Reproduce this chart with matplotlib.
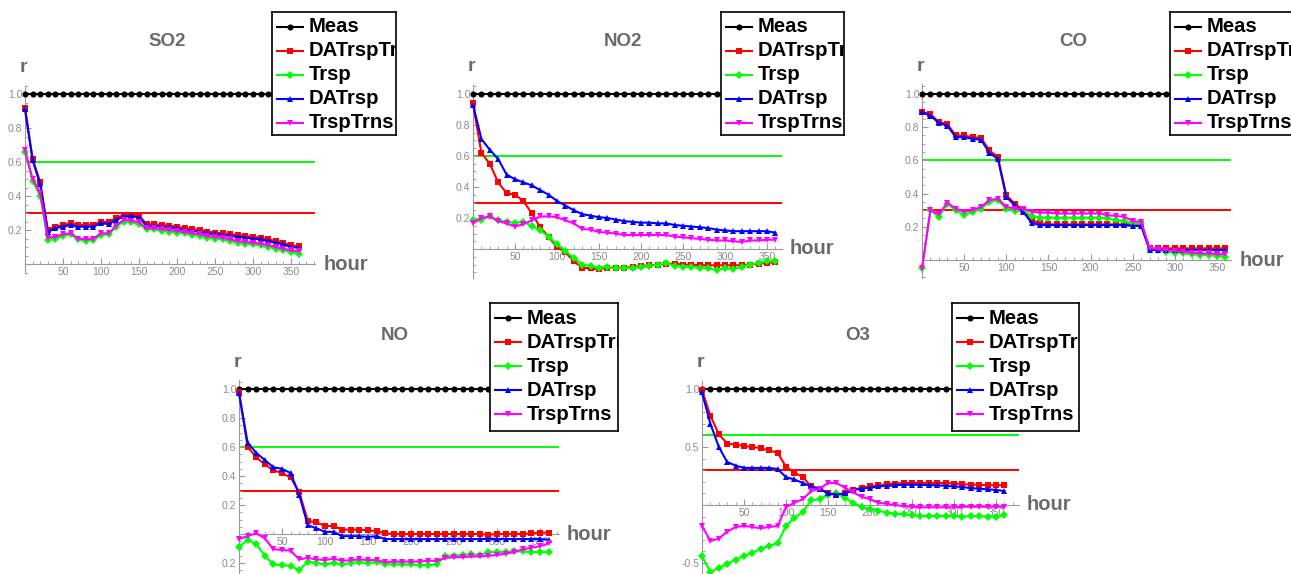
import numpy as np
import matplotlib
matplotlib.use('Agg')
import matplotlib.pyplot as plt
from matplotlib.ticker import MultipleLocator, FixedLocator

plt.rcParams['font.family'] = ['Liberation Sans', 'DejaVu Sans']

# x axis: hours 0..360 every 10
hours = np.arange(0, 370, 10)
meas = np.ones(len(hours))

series_names = ['Meas', 'DATrspTrns', 'Trsp', 'DATrsp', 'TrspTrns']

# ---------------- SO2 ----------------
so2_datrspt = [0.92, 0.62, 0.48, 0.20, 0.22, 0.23, 0.24, 0.23, 0.23, 0.23, 0.25, 0.245, 0.27, 0.29, 0.29, 0.285,
               0.235, 0.235, 0.23, 0.225, 0.22, 0.21, 0.205, 0.20, 0.19, 0.185, 0.18, 0.175, 0.17, 0.165, 0.16,
               0.155, 0.145, 0.135, 0.125, 0.11, 0.105]
so2_trsp = [0.66, 0.49, 0.40, 0.14, 0.15, 0.165, 0.175, 0.145, 0.135, 0.14, 0.17, 0.175, 0.22, 0.25, 0.245, 0.235,
            0.205, 0.205, 0.195, 0.19, 0.185, 0.18, 0.17, 0.165, 0.155, 0.15, 0.145, 0.135, 0.125, 0.12, 0.115,
            0.11, 0.10, 0.09, 0.08, 0.07, 0.06]
so2_datrsp = [0.91, 0.61, 0.47, 0.19, 0.21, 0.22, 0.23, 0.22, 0.22, 0.22, 0.24, 0.235, 0.26, 0.28, 0.28, 0.275,
              0.225, 0.225, 0.22, 0.215, 0.21, 0.20, 0.195, 0.19, 0.18, 0.175, 0.17, 0.165, 0.16, 0.155, 0.15,
              0.145, 0.135, 0.125, 0.115, 0.10, 0.095]
so2_trsptrns = [0.67, 0.50, 0.42, 0.155, 0.16, 0.175, 0.18, 0.15, 0.145, 0.15, 0.18, 0.18, 0.225, 0.26, 0.255, 0.245,
                0.21, 0.21, 0.205, 0.20, 0.195, 0.19, 0.18, 0.175, 0.165, 0.16, 0.155, 0.145, 0.135, 0.13, 0.125,
                0.12, 0.11, 0.10, 0.09, 0.08, 0.075]

# ---------------- NO2 ----------------
no2_datrspt = [0.94, 0.62, 0.55, 0.43, 0.36, 0.35, 0.31, 0.23, 0.14, 0.08, 0.01, -0.02, -0.08, -0.12, -0.125, -0.13,
               -0.12, -0.12, -0.12, -0.115, -0.11, -0.105, -0.10, -0.095, -0.095, -0.10, -0.10, -0.105, -0.105,
               -0.105, -0.105, -0.105, -0.105, -0.10, -0.095, -0.09, -0.085]
no2_trsp = [0.19, 0.19, 0.21, 0.185, 0.175, 0.17, 0.175, 0.15, 0.12, 0.08, 0.03, -0.01, -0.06, -0.10, -0.11, -0.12,
            -0.115, -0.125, -0.125, -0.12, -0.115, -0.11, -0.10, -0.09, -0.11, -0.115, -0.115, -0.12, -0.125,
            -0.135, -0.125, -0.13, -0.115, -0.10, -0.09, -0.08, -0.08]
no2_datrsp = [0.93, 0.71, 0.64, 0.58, 0.48, 0.45, 0.43, 0.41, 0.38, 0.35, 0.31, 0.28, 0.25, 0.225, 0.215, 0.205,
              0.20, 0.19, 0.18, 0.175, 0.17, 0.17, 0.165, 0.165, 0.155, 0.15, 0.145, 0.14, 0.135, 0.125, 0.12,
              0.115, 0.115, 0.115, 0.115, 0.115, 0.105]
no2_trsptrns = [0.165, 0.20, 0.21, 0.18, 0.165, 0.145, 0.16, 0.185, 0.21, 0.21, 0.205, 0.185, 0.165, 0.13, 0.125,
                0.11, 0.105, 0.10, 0.09, 0.09, 0.09, 0.09, 0.09, 0.09, 0.08, 0.075, 0.07, 0.065, 0.06, 0.055,
                0.055, 0.05, 0.045, 0.055, 0.055, 0.06, 0.06]

# ---------------- CO ----------------
co_datrspt = [0.89, 0.88, 0.83, 0.82, 0.75, 0.75, 0.74, 0.735, 0.66, 0.62, 0.39, 0.34, 0.30, 0.24, 0.22, 0.215,
              0.215, 0.215, 0.215, 0.215, 0.215, 0.215, 0.215, 0.215, 0.215, 0.215, 0.215, 0.07, 0.07, 0.07,
              0.07, 0.07, 0.07, 0.07, 0.07, 0.07, 0.07]
co_trsp = [-0.05, 0.30, 0.26, 0.34, 0.30, 0.27, 0.29, 0.31, 0.35, 0.36, 0.31, 0.295, 0.30, 0.265, 0.255, 0.255,
           0.255, 0.255, 0.255, 0.255, 0.255, 0.255, 0.25, 0.24, 0.235, 0.22, 0.22, 0.065, 0.06, 0.05, 0.045,
           0.04, 0.035, 0.03, 0.03, 0.025, 0.02]
co_datrsp = [0.89, 0.87, 0.825, 0.81, 0.74, 0.74, 0.73, 0.725, 0.645, 0.61, 0.38, 0.33, 0.29, 0.225, 0.21, 0.21,
             0.21, 0.21, 0.21, 0.21, 0.21, 0.21, 0.21, 0.21, 0.21, 0.205, 0.205, 0.06, 0.06, 0.06, 0.06, 0.06,
             0.06, 0.06, 0.06, 0.06, 0.06]
co_trsptrns = [-0.05, 0.30, 0.275, 0.345, 0.31, 0.29, 0.30, 0.32, 0.36, 0.37, 0.32, 0.31, 0.31, 0.29, 0.285, 0.285,
               0.28, 0.28, 0.28, 0.28, 0.28, 0.28, 0.27, 0.265, 0.26, 0.235, 0.23, 0.07, 0.065, 0.06, 0.055,
               0.05, 0.045, 0.04, 0.04, 0.035, 0.035]

# ---------------- NO ----------------
no_datrspt = [0.98, 0.60, 0.53, 0.48, 0.44, 0.42, 0.39, 0.29, 0.09, 0.08, 0.055, 0.055, 0.03, 0.03, 0.03, 0.025,
              0.02, 0.005, 0.0, 0.0, 0.0, 0.0, 0.0, 0.0, 0.0, 0.0, 0.0, 0.0, 0.0, -0.005, 0.0, 0.0, 0.0, 0.0,
              0.005, 0.01, 0.01]
no_trsp = [-0.09, -0.04, -0.07, -0.15, -0.21, -0.215, -0.22, -0.25, -0.19, -0.20, -0.21, -0.20, -0.21, -0.20,
           -0.195, -0.20, -0.195, -0.21, -0.21, -0.21, -0.21, -0.215, -0.215, -0.21, -0.15, -0.15, -0.145, -0.14,
           -0.145, -0.125, -0.125, -0.125, -0.12, -0.12, -0.125, -0.125, -0.125]
no_datrsp = [0.97, 0.63, 0.56, 0.51, 0.46, 0.45, 0.42, 0.27, 0.06, 0.04, 0.015, 0.015, -0.015, -0.015, -0.015,
             -0.02, -0.015, -0.035, -0.035, -0.035, -0.035, -0.035, -0.035, -0.035, -0.035, -0.035, -0.035,
             -0.035, -0.035, -0.035, -0.035, -0.035, -0.035, -0.035, -0.035, -0.035, -0.04]
no_trsptrns = [-0.035, -0.015, 0.005, -0.03, -0.105, -0.11, -0.115, -0.175, -0.165, -0.175, -0.18, -0.17, -0.185,
               -0.18, -0.175, -0.18, -0.18, -0.195, -0.19, -0.19, -0.19, -0.19, -0.185, -0.185, -0.165, -0.16,
               -0.16, -0.155, -0.155, -0.15, -0.145, -0.135, -0.125, -0.105, -0.095, -0.085, -0.065]

# ---------------- O3 ----------------
o3_datrspt = [0.99, 0.77, 0.61, 0.53, 0.52, 0.51, 0.50, 0.49, 0.47, 0.45, 0.33, 0.28, 0.24, 0.16, 0.14, 0.10,
              0.09, 0.10, 0.13, 0.15, 0.16, 0.17, 0.18, 0.185, 0.19, 0.19, 0.19, 0.19, 0.19, 0.19, 0.185, 0.18,
              0.175, 0.175, 0.17, 0.17, 0.17]
o3_trsp = [-0.44, -0.58, -0.54, -0.51, -0.47, -0.44, -0.41, -0.38, -0.35, -0.33, -0.18, -0.11, -0.06, 0.04, 0.05,
           0.09, 0.10, 0.06, 0.02, -0.02, -0.035, -0.05, -0.065, -0.075, -0.08, -0.09, -0.095, -0.095, -0.095,
           -0.095, -0.095, -0.10, -0.095, -0.095, -0.10, -0.10, -0.09]
o3_datrsp = [0.97, 0.70, 0.50, 0.37, 0.34, 0.32, 0.32, 0.32, 0.32, 0.31, 0.24, 0.22, 0.19, 0.16, 0.14, 0.10, 0.09,
             0.10, 0.13, 0.14, 0.15, 0.16, 0.165, 0.17, 0.175, 0.175, 0.175, 0.17, 0.17, 0.165, 0.16, 0.155,
             0.145, 0.14, 0.135, 0.13, 0.12]
o3_trsptrns = [-0.18, -0.31, -0.29, -0.23, -0.19, -0.18, -0.19, -0.20, -0.19, -0.18, -0.02, 0.02, 0.05, 0.12,
               0.14, 0.19, 0.19, 0.15, 0.11, 0.07, 0.05, 0.02, 0.01, 0.0, -0.01, -0.015, -0.02, -0.02, -0.02,
               -0.02, -0.02, -0.015, -0.015, -0.015, -0.015, -0.015, -0.015]

thresh_green = 0.6
thresh_red = 0.3

styles = [('black', 'o'), ('#ff0000', 's'), ('#00ff00', 'D'), ('#0000ff', '^'), ('#ff00ff', 'v')]
msizes = [4.4, 3.8, 4.0, 4.6, 4.6]

W, H = 1291, 574
fig = plt.figure(figsize=(W / 100, H / 100), dpi=100)

def frac(x, y):
    return x / W, 1 - y / H

# layout: pixel of x=0, px per hour, x end, pixel of y=0, px per unit r, ylim, y ticks/labels, minor y step
panels = [
    dict(name='SO2', data=[meas, so2_datrspt, so2_trsp, so2_datrsp, so2_trsptrns],
         x0=25, sx=0.76, xend=382, y0=264, sy=170, ylim=(-0.05, 1.05),
         yt=[0.2, 0.4, 0.6, 0.8, 1.0], yl=['0.2', '0.4', '0.6', '0.8', '1.0'],
         ymin=0.05, title=(167, 42), leg=(272, 396, 12, 135)),
    dict(name='NO2', data=[meas, no2_datrspt, no2_trsp, no2_datrsp, no2_trsptrns],
         x0=473, sx=0.84, xend=368, y0=249, sy=155, ylim=(-0.19, 1.06),
         yt=[0.2, 0.4, 0.6, 0.8, 1.0], yl=['0.2', '0.4', '0.6', '0.8', '1.0'],
         ymin=0.05, title=(623, 42), leg=(721, 844, 12, 135)),
    dict(name='CO', data=[meas, co_datrspt, co_trsp, co_datrsp, co_trsptrns],
         x0=922, sx=0.843, xend=367, y0=260, sy=166, ylim=(-0.11, 1.06),
         yt=[0.2, 0.4, 0.6, 0.8, 1.0], yl=['0.2', '0.4', '0.6', '0.8', '1.0'],
         ymin=0.05, title=(1073, 42), leg=(1170, 1296, 12, 135)),
    dict(name='NO', data=[meas, no_datrspt, no_trsp, no_datrsp, no_trsptrns],
         x0=239, sx=0.86, xend=372, y0=534, sy=145, ylim=(-0.27, 1.06),
         yt=[-0.2, 0.2, 0.4, 0.6, 0.8, 1.0], yl=['0.2', '0.2', '0.4', '0.6', '0.8', '1.0'],
         ymin=0.05, title=(395, 335), leg=(490, 618, 303, 431)),
    dict(name='O3', data=[meas, o3_datrspt, o3_trsp, o3_datrsp, o3_trsptrns],
         x0=702, sx=0.84, xend=377, y0=505, sy=116, ylim=(-0.6, 1.07),
         yt=[-0.5, 0.5, 1.0], yl=['-0.5', '0.5', '1.0'],
         ymin=0.1, title=(858, 335), leg=(952, 1079, 303, 431)),
]

axis_gray = '#9a9a9a'
label_gray = '#6a6a6a'

for p in panels:
    left = p['x0']
    right = p['x0'] + p['xend'] * p['sx']
    top = p['y0'] - p['ylim'][1] * p['sy']
    bottom = p['y0'] - p['ylim'][0] * p['sy']
    ax = fig.add_axes([left / W, 1 - bottom / H, (right - left) / W, (bottom - top) / H])
    ax.set_xlim(0, p['xend'])
    ax.set_ylim(*p['ylim'])
    ax.patch.set_alpha(0)

    ax.axhline(thresh_green, color='#00ff00', lw=1.4, zorder=1)
    ax.axhline(thresh_red, color='#ff0000', lw=1.4, zorder=1)
    for vals, (c, m), ms in zip(p['data'], styles, msizes):
        ax.plot(hours, vals, color=c, marker=m, ms=ms, lw=1.5, mew=0, clip_on=False, zorder=3)

    for s in ['top', 'right']:
        ax.spines[s].set_visible(False)
    ax.spines['bottom'].set_position(('data', 0))
    ax.spines['bottom'].set_color(axis_gray)
    ax.spines['left'].set_color(axis_gray)
    ax.spines['bottom'].set_linewidth(0.8)
    ax.spines['left'].set_linewidth(0.8)

    ax.xaxis.set_major_locator(FixedLocator([50, 100, 150, 200, 250, 300, 350]))
    ax.xaxis.set_minor_locator(MultipleLocator(10))
    ax.yaxis.set_major_locator(FixedLocator(p['yt']))
    ax.yaxis.set_minor_locator(MultipleLocator(p['ymin']))
    ax.tick_params(which='both', direction='in', color=axis_gray, labelcolor='#8a8a8a', labelsize=7.5, pad=2)
    ax.tick_params(which='major', length=4, width=0.8)
    ax.tick_params(which='minor', length=2, width=0.6)
    ax.set_yticklabels(p['yl'])

    # title, axis labels
    tx, ty = frac(*p['title'])
    fig.text(tx, ty, p['name'], ha='center', va='center', fontsize=13.5, fontweight='bold', color=label_gray)
    rx, ry = frac(left - 2, top - 18)
    fig.text(rx, ry, 'r', ha='center', va='center', fontsize=14, fontweight='bold', color=label_gray)
    hx, hy = frac(right + 8, p['y0'])
    fig.text(hx, hy, 'hour', ha='left', va='center', fontsize=14.5, fontweight='bold', color=label_gray)

    # legend box (clips its own text like the original)
    l, r, t, b = p['leg']
    lax = fig.add_axes([l / W, 1 - b / H, (r - l) / W, (b - t) / H])
    lax.set_xlim(0, r - l)
    lax.set_ylim(b - t, 0)
    lax.set_xticks([])
    lax.set_yticks([])
    lax.set_facecolor('white')
    for s in lax.spines.values():
        s.set_color('black')
        s.set_linewidth(1.2)
    for i, (name, (c, m), ms) in enumerate(zip(series_names, styles, msizes)):
        yy = 15 + i * 24
        lax.plot([5, 31], [yy, yy], color=c, lw=1.5)
        lax.plot([18], [yy], color=c, marker=m, ms=ms, mew=0)
        lax.text(37, yy, name, ha='left', va='center', fontsize=14.6, fontweight='bold',
                 color='black', clip_on=True)

fig.savefig('out.png', dpi=100)
